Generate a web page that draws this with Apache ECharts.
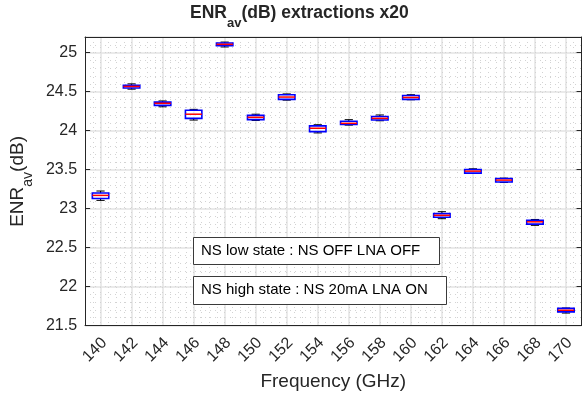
<!DOCTYPE html>
<html>
<head>
<meta charset="utf-8">
<script src="https://cdn.jsdelivr.net/npm/echarts@6/dist/echarts.min.js"></script>
<style>
  html, body { margin: 0; padding: 0; background: #fff; }
  #chart { width: 582px; height: 396px; }
</style>
</head>
<body>
<div id="chart"></div>
<script>
// frequencies (GHz) and box statistics of ENRav (dB), 20 extractions each
const freqs = ['140', '142', '144', '146', '148', '150', '152', '154',
               '156', '158', '160', '162', '164', '166', '168', '170'];
const lows  = [23.105, 24.531, 24.305, 24.135, 25.072, 24.13, 24.39, 23.97,
               24.07, 24.126, 24.395, 22.87, 23.45, 23.335, 22.785, 21.66];
const q1s   = [23.13, 24.546, 24.323, 24.157, 25.089, 24.14, 24.40, 23.986,
               24.08, 24.135, 24.40, 22.888, 23.455, 23.34, 22.80, 21.675];
const meds  = [23.169, 24.566, 24.35, 24.21, 25.106, 24.17, 24.43, 24.03,
               24.093, 24.157, 24.425, 22.913, 23.48, 23.365, 22.83, 21.696];
const q3s   = [23.199, 24.582, 24.365, 24.26, 25.123, 24.195, 24.46, 24.06,
               24.12, 24.18, 24.45, 22.935, 23.50, 23.385, 22.85, 21.72];
const highs = [23.225, 24.599, 24.38, 24.272, 25.135, 24.21, 24.47, 24.075,
               24.14, 24.2, 24.46, 22.96, 23.51, 23.39, 22.86, 21.725];
const notes = ['NS low state : NS OFF LNA OFF', 'NS high state : NS 20mA LNA ON'];

const FONT = '"Liberation Sans", Arial, Helvetica, sans-serif';
const INK = '#262626';

const boxData = freqs.map((f, i) => [i, lows[i], q1s[i], meds[i], q3s[i], highs[i]]);

// one MATLAB-style box: black whiskers + caps, blue box, red median
function renderBox (params, api) {
    const i = api.value(0);
    const pLow = api.coord([i, api.value(1)]);
    const pQ1 = api.coord([i, api.value(2)]);
    const pMed = api.coord([i, api.value(3)]);
    const pQ3 = api.coord([i, api.value(4)]);
    const pHigh = api.coord([i, api.value(5)]);
    const band = api.size([1, 0])[0];
    const bw = band * 0.53;
    const cw = bw * 0.5;
    const cx = pMed[0];
    const black = { stroke: '#000', lineWidth: 1 };
    return {
        type: 'group',
        children: [
            { type: 'line', shape: { x1: cx, y1: pHigh[1], x2: cx, y2: pQ3[1] }, style: black },
            { type: 'line', shape: { x1: cx, y1: pQ1[1], x2: cx, y2: pLow[1] }, style: black },
            { type: 'line', shape: { x1: cx - cw / 2, y1: pHigh[1], x2: cx + cw / 2, y2: pHigh[1] }, style: black },
            { type: 'line', shape: { x1: cx - cw / 2, y1: pLow[1], x2: cx + cw / 2, y2: pLow[1] }, style: black },
            {
                type: 'rect',
                shape: { x: cx - bw / 2, y: pQ3[1], width: bw, height: pQ1[1] - pQ3[1] },
                style: { fill: 'rgba(255,255,255,0.6)', stroke: '#0000ff', lineWidth: 1.6 }
            },
            { type: 'line', shape: { x1: cx - bw / 2, y1: pMed[1], x2: cx + bw / 2, y2: pMed[1] }, style: { stroke: '#ff0000', lineWidth: 1.5 } }
        ]
    };
}

const subRich = (size, bold) => ({
    m: { fontSize: size, fontWeight: bold ? 'bold' : 'normal', fontFamily: FONT, color: INK, lineHeight: size + 2, verticalAlign: 'top' },
    s: { fontSize: Math.round(size * 0.72), fontWeight: bold ? 'bold' : 'normal', fontFamily: FONT, color: INK, lineHeight: Math.round(size * 0.72), verticalAlign: 'bottom' },
    h: { fontSize: 1, lineHeight: size + 8 }
});

const chart = echarts.init(document.getElementById('chart'), null, { renderer: 'canvas' });

const option = {
    backgroundColor: '#fff',
    animation: false,
    title: {
        text: '{m|ENR}{s|av}{m|(dB) extractions x20}{h| }',
        left: 190,
        top: 4,
        padding: 0,
        textStyle: { rich: subRich(17.5, true) }
    },
    grid: { left: 85, top: 37, right: 0.5, bottom: 68.5 },
    xAxis: [
        {
            type: 'category',
            data: freqs,
            position: 'bottom',
            name: 'Frequency (GHz)',
            nameLocation: 'middle',
            nameGap: 45,
            nameTextStyle: { fontFamily: FONT, fontSize: 19, color: INK },
            axisLine: { lineStyle: { color: INK, width: 1 } },
            axisTick: { alignWithLabel: true, inside: true, length: 5, lineStyle: { color: INK } },
            axisLabel: {
                rotate: 45, margin: 30, align: 'center', verticalAlign: 'bottom',
                fontFamily: FONT, fontSize: 16, color: INK, interval: 0
            },
            splitLine: { show: false }
        },
        {
            type: 'category',
            data: freqs,
            position: 'top',
            axisLine: { lineStyle: { color: INK, width: 1 } },
            axisTick: { alignWithLabel: true, inside: true, length: 5, lineStyle: { color: INK } },
            axisLabel: { show: false },
            splitLine: { show: false }
        },
        {
            // major vertical grid at the even frequencies
            type: 'value', min: 139, max: 171, interval: 1, position: 'bottom',
            axisLine: { show: false }, axisTick: { show: false }, axisLabel: { show: false },
            splitLine: { lineStyle: { color: ['rgba(0,0,0,0)', '#e3e3e3'], width: 1.5 } }
        },
        {
            // minor vertical grid
            type: 'value', min: 139, max: 171, interval: 0.5, position: 'bottom',
            axisLine: { show: false }, axisTick: { show: false }, axisLabel: { show: false },
            splitLine: { lineStyle: { color: '#d2d2d2', width: 1, type: [1, 4] } }
        }
    ],
    yAxis: [
        {
            type: 'value', min: 21.5, max: 25.2, interval: 0.5, position: 'left',
            name: '{m|ENR}{s|av}{m|(dB)}{h| }',
            nameLocation: 'middle',
            nameGap: 48,
            nameRotate: 90,
            nameTextStyle: { rich: subRich(19, false) },
            axisLine: { show: true, lineStyle: { color: INK, width: 1 } },
            axisTick: { show: true, inside: true, length: 5, lineStyle: { color: INK } },
            axisLabel: {
                margin: 8, fontFamily: FONT, fontSize: 16, color: INK,
                formatter: v => (Math.abs(v * 2 - Math.round(v * 2)) < 1e-6 ? String(+v.toFixed(1)) : '')
            },
            splitLine: { lineStyle: { color: '#e3e3e3', width: 1.5 } }
        },
        {
            type: 'value', min: 21.5, max: 25.2, interval: 0.5, position: 'right',
            axisLine: { show: true, lineStyle: { color: INK, width: 1 } },
            axisTick: { show: true, inside: true, length: 5, lineStyle: { color: INK } },
            axisLabel: { show: false },
            splitLine: { show: false }
        },
        {
            // minor horizontal grid
            type: 'value', min: 21.5, max: 25.2, interval: 0.1, position: 'left',
            axisLine: { show: false }, axisTick: { show: false }, axisLabel: { show: false },
            splitLine: { lineStyle: { color: '#d2d2d2', width: 1, type: [1, 4] } }
        }
    ],
    series: [
        {
            type: 'custom',
            name: 'ENRav',
            xAxisIndex: 0,
            yAxisIndex: 0,
            renderItem: renderBox,
            encode: { x: 0, y: [1, 2, 3, 4, 5] },
            data: boxData,
            z: 10
        }
    ],
    graphic: [
        { type: 'rect', left: 193, top: 237, z: 100, shape: { width: 246, height: 27 }, style: { fill: '#fff', stroke: '#3a3a3a', lineWidth: 1 } },
        { type: 'text', x: 201, y: 251, z: 101, style: { text: notes[0], font: '15px ' + FONT, fill: '#000', verticalAlign: 'middle' } },
        { type: 'rect', left: 193, top: 276, z: 100, shape: { width: 253, height: 28 }, style: { fill: '#fff', stroke: '#3a3a3a', lineWidth: 1 } },
        { type: 'text', x: 201, y: 290, z: 101, style: { text: notes[1], font: '15px ' + FONT, fill: '#000', verticalAlign: 'middle' } }
    ]
};

chart.setOption(option);
</script>
</body>
</html>
